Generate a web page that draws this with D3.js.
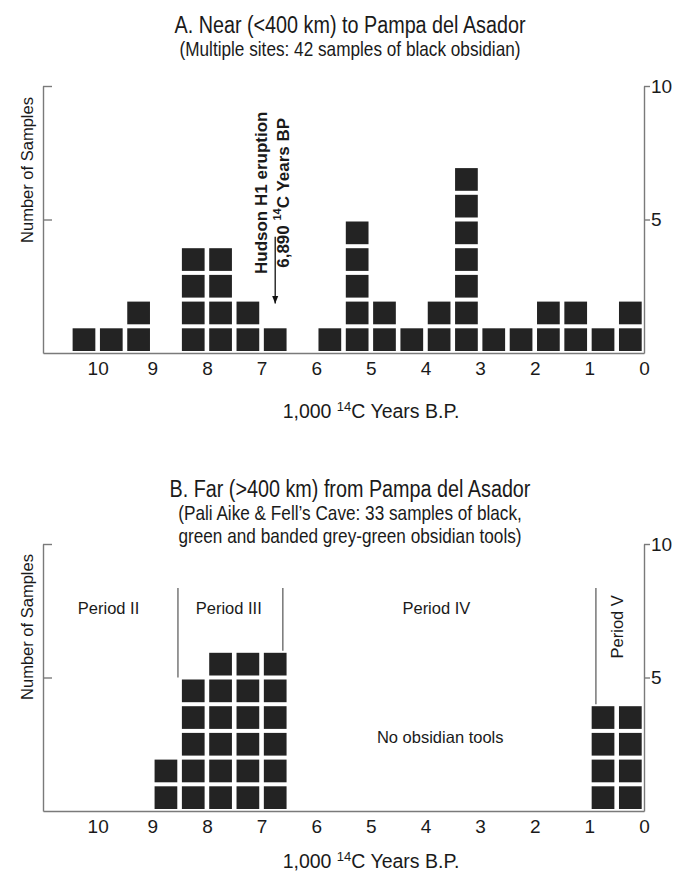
<!DOCTYPE html>
<html>
<head>
<meta charset="utf-8">
<script src="https://cdn.jsdelivr.net/npm/d3@7"></script>
<style>
    body { margin: 0; background: #fff; }
    text { font-family: "Liberation Sans", Arial, sans-serif; fill: #1a1a1a; }
</style>
</head>
<body>
<div id="chart"></div>
<script>
// 0.5 kyr bins, centre of each bin in 1,000 14C years BP
var bins = [10.25, 9.75, 9.25, 8.75, 8.25, 7.75, 7.25, 6.75, 6.25, 5.75, 5.25,
            4.75, 4.25, 3.75, 3.25, 2.75, 2.25, 1.75, 1.25, 0.75, 0.25];
var countsNear = [1, 1, 2, 0, 4, 4, 2, 1, 0, 1, 5, 2, 1, 2, 7, 1, 1, 2, 2, 1, 2];
var countsFar = [0, 0, 0, 2, 5, 6, 6, 6, 0, 0, 0, 0, 0, 0, 0, 0, 0, 0, 0, 4, 4];

var xTicks = [10, 9, 8, 7, 6, 5, 4, 3, 2, 1, 0];
var yTicks = [5, 10];

var titlesNear = ["A. Near (<400 km) to Pampa del Asador",
                  "(Multiple sites: 42 samples of black obsidian)"];
var titlesFar = ["B. Far (>400 km) from Pampa del Asador",
                 "(Pali Aike & Fell\u2019s Cave: 33 samples of black,",
                 "green and banded grey-green obsidian tools)"];

var hudsonLines = ["Hudson H1 eruption", "6,890 ", "14", "C Years BP"];
var hudsonAt = 6.75;

var periodLabels = [
    {name: "Period II", x: 9.8, y: 7.6, rotate: false},
    {name: "Period III", x: 7.6, y: 7.6, rotate: false},
    {name: "Period IV", x: 3.8, y: 7.6, rotate: false},
    {name: "Period V", x: 0.5, y: 6.9, rotate: true},
    {name: "No obsidian tools", x: 3.73, y: 2.77, rotate: false}
];
var periodLines = [
    {x: 8.53, top: 8.35, bottom: 5},
    {x: 6.61, top: 8.35, bottom: 6},
    {x: 0.88, top: 8.35, bottom: 4}
];

var W = 692, H = 879;
var squareColor = "#232323",
    axisColor = "#7a7a7a";

var svg = d3.select("#chart")
    .append("svg")
    .attr("width", W)
    .attr("height", H);

svg.append("defs").append("marker")
    .attr("id", "arrow")
    .attr("viewBox", "0 0 10 10")
    .attr("refX", 10)
    .attr("refY", 5)
    .attr("markerWidth", 8)
    .attr("markerHeight", 8)
    .attr("markerUnits", "userSpaceOnUse")
    .attr("orient", "auto")
    .append("path")
    .attr("d", "M0,1 L10,5 L0,9 Z")
    .attr("fill", "#111");

var xScale = d3.scaleLinear()
    .domain([11, 0])
    .range([43, 644]);

function drawPanel(opts) {
    var yScale = d3.scaleLinear()
        .domain([0, 10])
        .range([opts.base, opts.base - 267]);

    var g = svg.append("g");

    // titles (condensed face, like the original)
    g.selectAll(".title")
        .data(opts.titles)
        .enter().append("text")
        .attr("class", "title")
        .attr("transform", function (d, i) {
            return "translate(350," + (opts.titleY + i * 23) + ") scale(0.86,1)";
        })
        .attr("text-anchor", "middle")
        .style("font-size", function (d, i) { return i == 0 ? "23px" : "20px"; })
        .text(function (d) { return d; });

    // stacked squares
    var cells = [];
    bins.forEach(function (b, i) {
        for (var k = 0; k < opts.counts[i]; k++) {
            cells.push({bin: b, k: k});
        }
    });

    g.selectAll("rect.cell")
        .data(cells)
        .enter().append("rect")
        .attr("class", "cell")
        .attr("x", function (d) { return xScale(d.bin + 0.25) + 2.3; })
        .attr("y", function (d) { return yScale(d.k + 1) + 2; })
        .attr("width", function (d) { return xScale(d.bin - 0.25) - xScale(d.bin + 0.25) - 4.6; })
        .attr("height", function (d) { return yScale(d.k) - yScale(d.k + 1) - 4; })
        .attr("fill", squareColor);

    // axes
    var xAxis = d3.axisBottom(xScale)
        .tickValues(xTicks)
        .tickSize(0)
        .tickPadding(9)
        .tickSizeOuter(0)
        .tickFormat(d3.format("d"));
    var gx = g.append("g")
        .attr("transform", "translate(0," + opts.base + ")")
        .call(xAxis);

    var leftAxis = d3.axisLeft(yScale)
        .tickValues(yTicks)
        .tickSize(-9)
        .tickSizeOuter(0)
        .tickFormat("");
    var gl = g.append("g")
        .attr("transform", "translate(" + xScale.range()[0] + ",0)")
        .call(leftAxis);

    var rightAxis = d3.axisRight(yScale)
        .tickValues(yTicks)
        .tickSize(6)
        .tickPadding(1)
        .tickSizeOuter(0);
    var gr = g.append("g")
        .attr("transform", "translate(" + xScale.range()[1] + ",0)")
        .call(rightAxis);

    [gx, gl, gr].forEach(function (a) {
        a.select(".domain").attr("stroke", axisColor).attr("stroke-width", 1.4);
        a.selectAll(".tick line").attr("stroke", axisColor).attr("stroke-width", 1.4);
        a.selectAll(".tick text")
            .attr("fill", "#1a1a1a")
            .style("font-size", "19px")
            .style("font-family", "'Liberation Sans', Arial, sans-serif");
    });

    // axis titles
    g.append("text")
        .attr("transform", "translate(27," + opts.yLabelY + ") rotate(-90)")
        .attr("text-anchor", "middle")
        .attr("dominant-baseline", "central")
        .style("font-size", "16.5px")
        .text("Number of Samples");

    var xl = g.append("text")
        .attr("x", 371)
        .attr("y", opts.base + opts.xLabelOff)
        .attr("text-anchor", "middle")
        .style("font-size", "19.5px");
    xl.append("tspan").text("1,000 ");
    xl.append("tspan").attr("dy", -7).style("font-size", "13px").text("14");
    xl.append("tspan").attr("dy", 7).text("C Years B.P.");

    return {g: g, y: yScale};
}

var near = drawPanel({
    counts: countsNear, base: 353, titles: titlesNear, titleY: 33,
    yLabelY: 170, xLabelOff: 65
});

var far = drawPanel({
    counts: countsFar, base: 811, titles: titlesFar, titleY: 497,
    yLabelY: 627, xLabelOff: 57
});

// Hudson H1 annotation (panel A)
near.g.append("text")
    .attr("transform", "translate(" + xScale(7.0) + "," + near.y(6.0) + ") rotate(-90)")
    .attr("text-anchor", "middle")
    .attr("dominant-baseline", "central")
    .style("font-size", "17px")
    .style("font-weight", "bold")
    .text(hudsonLines[0]);

var h2 = near.g.append("text")
    .attr("transform", "translate(" + xScale(6.6) + "," + near.y(6.0) + ") rotate(-90)")
    .attr("text-anchor", "middle")
    .attr("dominant-baseline", "central")
    .style("font-size", "17px")
    .style("font-weight", "bold");
h2.append("tspan").text(hudsonLines[1]);
h2.append("tspan").attr("dy", -6).style("font-size", "11px").text(hudsonLines[2]);
h2.append("tspan").attr("dy", 6).text(hudsonLines[3]);

near.g.append("line")
    .attr("x1", xScale(hudsonAt))
    .attr("x2", xScale(hudsonAt))
    .attr("y1", near.y(4.35))
    .attr("y2", near.y(1.85))
    .attr("stroke", "#111")
    .attr("stroke-width", 1.3)
    .attr("marker-end", "url(#arrow)");

// period boundaries and labels (panel B)
far.g.selectAll("line.period")
    .data(periodLines)
    .enter().append("line")
    .attr("class", "period")
    .attr("x1", function (d) { return xScale(d.x); })
    .attr("x2", function (d) { return xScale(d.x); })
    .attr("y1", function (d) { return far.y(d.top); })
    .attr("y2", function (d) { return far.y(d.bottom); })
    .attr("stroke", "#555")
    .attr("stroke-width", 1.2);

far.g.selectAll("text.period")
    .data(periodLabels)
    .enter().append("text")
    .attr("class", "period")
    .attr("transform", function (d) {
        var t = "translate(" + xScale(d.x) + "," + far.y(d.y) + ")";
        return d.rotate ? t + " rotate(-90)" : t;
    })
    .attr("text-anchor", "middle")
    .attr("dominant-baseline", "central")
    .style("font-size", "16.5px")
    .text(function (d) { return d.name; });
</script>
</body>
</html>
